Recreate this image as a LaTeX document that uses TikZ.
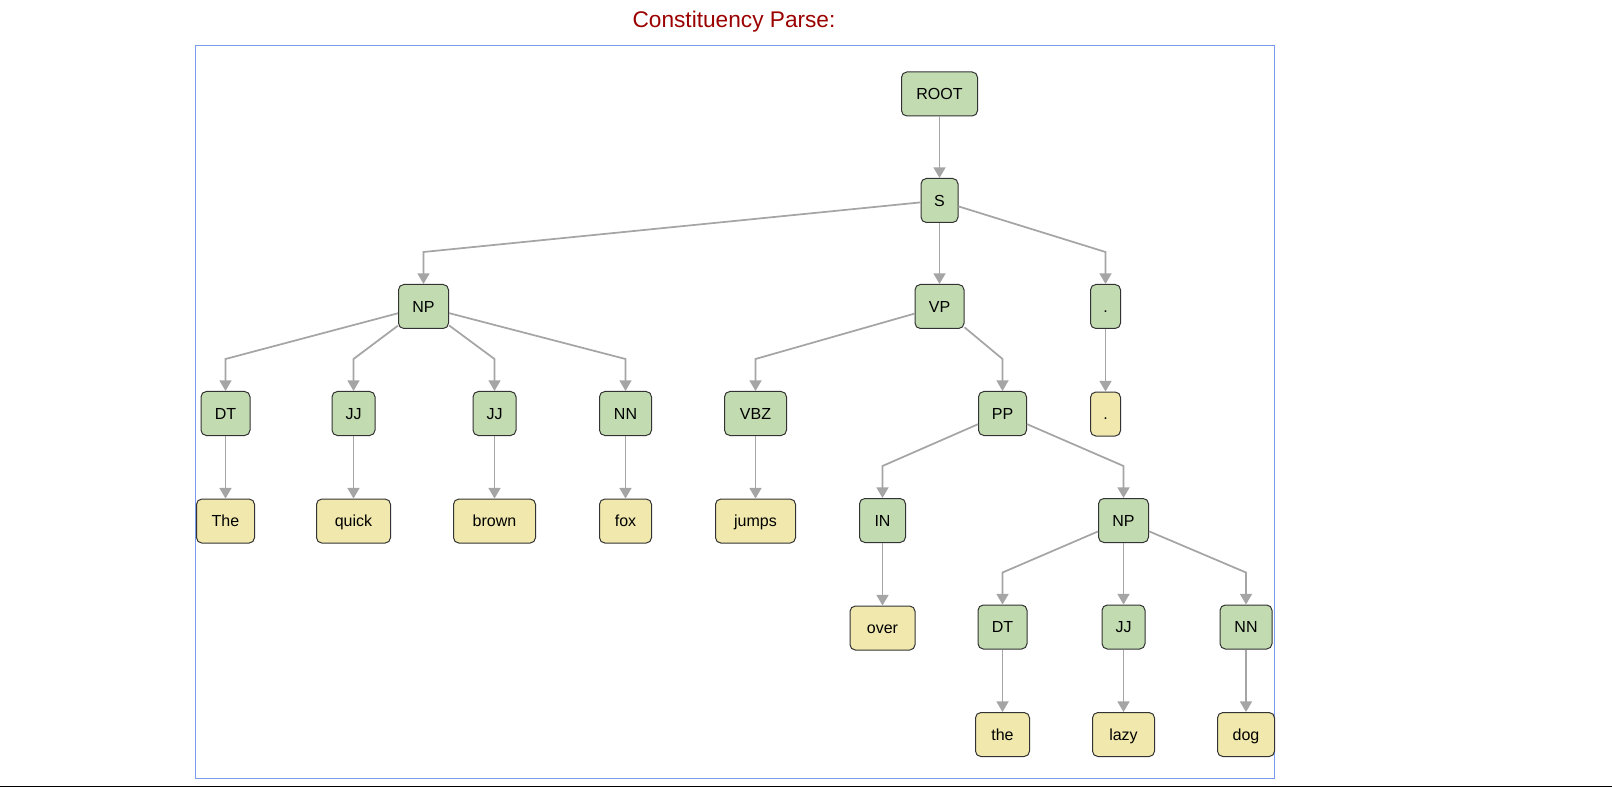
\documentclass[tikz,border=0pt]{standalone}
\usepackage{fontspec}
\setmainfont{Liberation Sans}
\usetikzlibrary{positioning, calc, arrows.meta}

\definecolor{tagfill}{RGB}{194,219,177}
\definecolor{wordfill}{RGB}{240,232,172}
\definecolor{boxline}{RGB}{51,51,51}
\definecolor{edgegray}{RGB}{165,165,165}
\definecolor{framecol}{RGB}{122,154,235}
\definecolor{titlered}{RGB}{155,0,0}

\begin{document}
\begin{tikzpicture}[
    x=0.75pt, y=-0.75pt,
    % Boxes for phrase and tag labels
    tagbox/.style={
        draw=boxline,
        fill=tagfill,
        line width=0.75pt,
        rounded corners=4pt,
        minimum height=33pt,
        inner xsep=0pt,
        text height=8.6pt,
        text depth=0pt,
        font=\fontsize{12}{14}\selectfont
    },
    % Boxes for the words themselves
    wordbox/.style={tagbox, fill=wordfill},
    boxw/.style={minimum width=#1*0.75pt},
    edge/.style={
        draw=edgegray,
        line width=1.3pt,
        -{Triangle[length=8pt,width=9pt]}
    }
]
\useasboundingbox (0,0) rectangle (1612,787);

% Title and frame
\node[text=titlered, font=\fontsize{17}{21}\selectfont] (title) at (734,22) {Constituency Parse:};
\draw[framecol, line width=0.75pt] (195,46) rectangle (1274,778);
\draw[line width=0.75pt] (0,786) -- (1612,786);

% Phrase and tag nodes
\node[tagbox, boxw=76] (root) at (939.5,94) {ROOT};
\node[tagbox, boxw=37] (s) at (939.5,200.5) {S};
\node[tagbox, boxw=50] (np) at (423.5,306.5) {NP};
\node[tagbox, boxw=49] (vp) at (939.5,306.5) {VP};
\node[tagbox, boxw=30] (dotpos) at (1105.5,306.5) {.};
\node[tagbox, boxw=49] (dt1) at (225.5,413.5) {DT};
\node[tagbox, boxw=43] (jj1) at (353.5,413.5) {JJ};
\node[tagbox, boxw=43] (jj2) at (494.5,413.5) {JJ};
\node[tagbox, boxw=52] (nn1) at (625.5,413.5) {NN};
\node[tagbox, boxw=62] (vbz) at (755.5,413.5) {VBZ};
\node[tagbox, boxw=48] (pp) at (1002.5,413.5) {PP};
\node[tagbox, boxw=46] (in) at (882.5,520.5) {IN};
\node[tagbox, boxw=50] (np2) at (1123.5,520.5) {NP};
\node[tagbox, boxw=49] (dt2) at (1002.5,627) {DT};
\node[tagbox, boxw=43] (jj3) at (1123.5,627) {JJ};
\node[tagbox, boxw=52] (nn2) at (1246,627) {NN};

% Word nodes, each one below its tag
\node[wordbox, boxw=30, below=46.9pt of dotpos] (dotword) {.};
\node[wordbox, boxw=58, below=46.9pt of dt1] (the1) {The};
\node[wordbox, boxw=74, below=46.9pt of jj1] (quick) {quick};
\node[wordbox, boxw=82, below=46.9pt of jj2] (brown) {brown};
\node[wordbox, boxw=52, below=46.9pt of nn1] (fox) {fox};
\node[wordbox, boxw=80, below=46.9pt of vbz] (jumps) {jumps};
\node[wordbox, boxw=65, below=46.9pt of in] (over) {over};
\node[wordbox, boxw=54, below=46.9pt of dt2] (the2) {the};
\node[wordbox, boxw=62, below=46.9pt of jj3] (lazy) {lazy};
\node[wordbox, boxw=57, below=46.9pt of nn2] (dog) {dog};

% Edges: straight to a point above the child, then down
\foreach \p/\c in {root/s, s/np, s/vp, s/dotpos, np/dt1, np/jj1, np/jj2, np/nn1,
    vp/vbz, vp/pp, dotpos/dotword, dt1/the1, jj1/quick, jj2/brown, nn1/fox,
    vbz/jumps, pp/in, pp/np2, in/over, np2/dt2, np2/jj3, np2/nn2,
    dt2/the2, jj3/lazy, nn2/dog}
    \draw[edge] (\p) -- ($(\c.north)+(0,-32)$) -- (\c);

\end{tikzpicture}
\end{document}
